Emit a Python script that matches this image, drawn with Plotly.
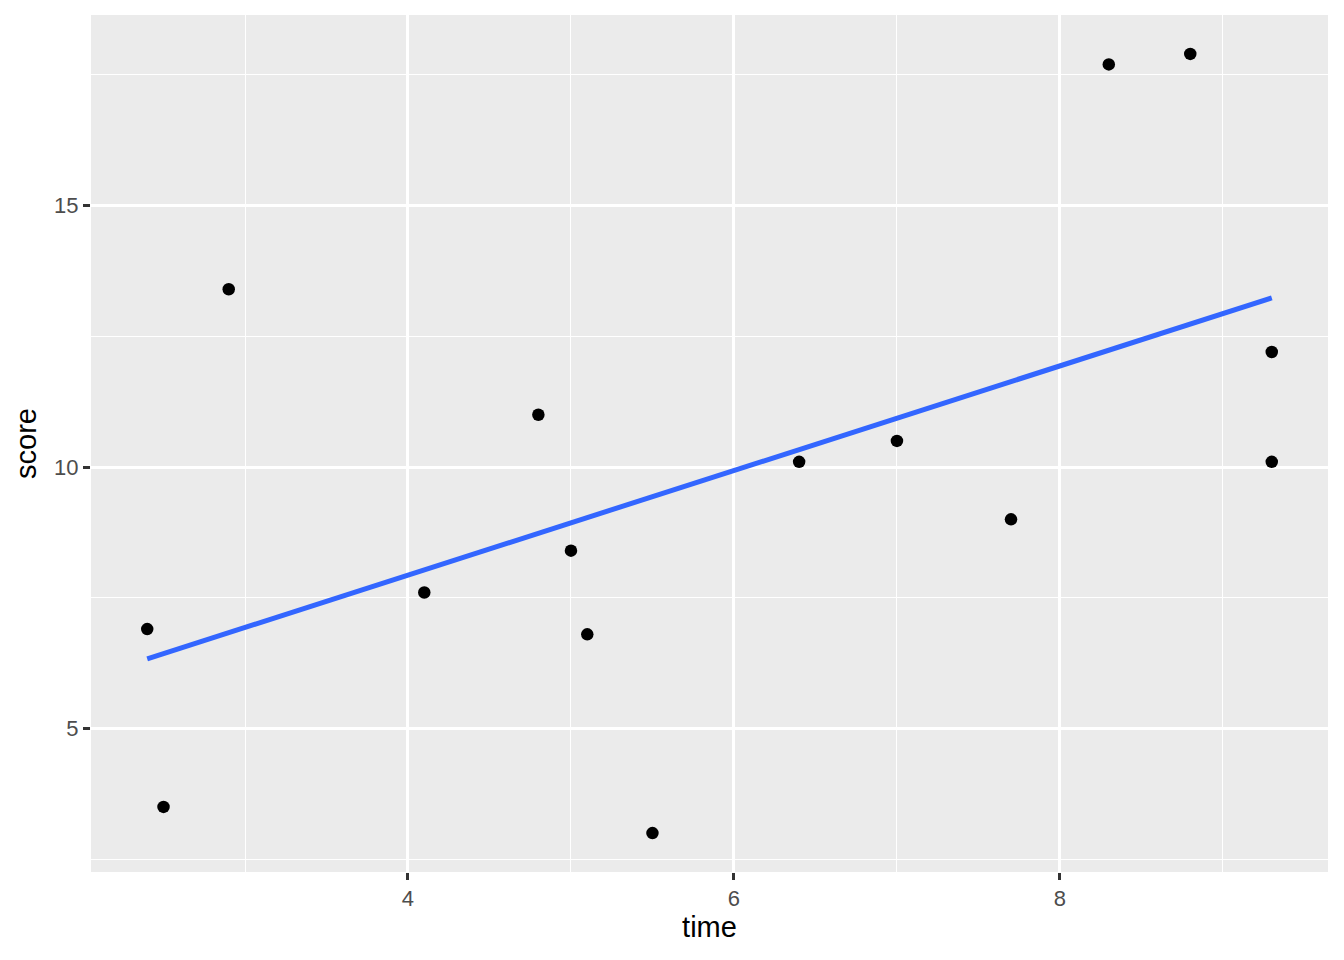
import numpy as np
import plotly.graph_objects as go

time = [2.4, 2.5, 2.9, 4.1, 4.8, 5.0, 5.1, 5.5, 6.4, 7.0, 7.7, 8.3, 8.8, 9.3, 9.3]
score = [6.9, 3.5, 13.4, 7.6, 11.0, 8.4, 6.8, 3.0, 10.1, 10.5, 9.0, 17.7, 17.9, 12.2, 10.1]

x_ticks = [4, 6, 8]
y_ticks = [5, 10, 15]
x_minor = [3, 5, 7, 9]
y_minor = [2.5, 7.5, 12.5, 17.5]

# linear fit (geom_smooth method = "lm", se = FALSE)
slope, intercept = np.polyfit(time, score, 1)
fit_x = np.linspace(min(time), max(time), 80)
fit_y = slope * fit_x + intercept

fig = go.Figure()
fig.add_trace(go.Scatter(x=time, y=score, mode="markers",
                         marker=dict(color="black", size=12.5, line=dict(width=0)),
                         showlegend=False, hoverinfo="x+y"))
fig.add_trace(go.Scatter(x=fit_x, y=fit_y, mode="lines",
                         line=dict(color="#3366FF", width=5),
                         showlegend=False))

xr = [min(time), max(time)]
yr = [min(score), max(score)]
xpad = 0.05 * (xr[1] - xr[0])
ypad = 0.05 * (yr[1] - yr[0])

FONT = "Liberation Sans, Arial, sans-serif"
axis_common = dict(
    showgrid=True, gridcolor="white", gridwidth=2.9,
    zeroline=False, showline=False,
    ticks="outside", ticklen=7, tickwidth=2.8, tickcolor="#333333",
    tickfont=dict(family=FONT, size=22, color="#4D4D4D"),
    title_font=dict(family=FONT, size=29, color="black"),
)

fig.update_xaxes(**axis_common, range=[xr[0] - xpad, xr[1] + xpad],
                 tickvals=x_ticks, ticktext=[str(v) for v in x_ticks],
                 minor=dict(showgrid=True, gridcolor="white", gridwidth=1.45, tickvals=x_minor, ticks=""),
                 title=dict(text="time", standoff=6))
fig.update_yaxes(**axis_common, range=[yr[0] - ypad, yr[1] + ypad],
                 tickvals=y_ticks, ticktext=[str(v) for v in y_ticks],
                 minor=dict(showgrid=True, gridcolor="white", gridwidth=1.45, tickvals=y_minor, ticks=""),
                 title=dict(text="score", standoff=8))

fig.update_layout(
    width=1336, height=952,
    paper_bgcolor="white", plot_bgcolor="#EBEBEB",
    margin=dict(l=83, r=16, t=7, b=88),
    font=dict(family=FONT),
)

fig.write_html("out.html")
